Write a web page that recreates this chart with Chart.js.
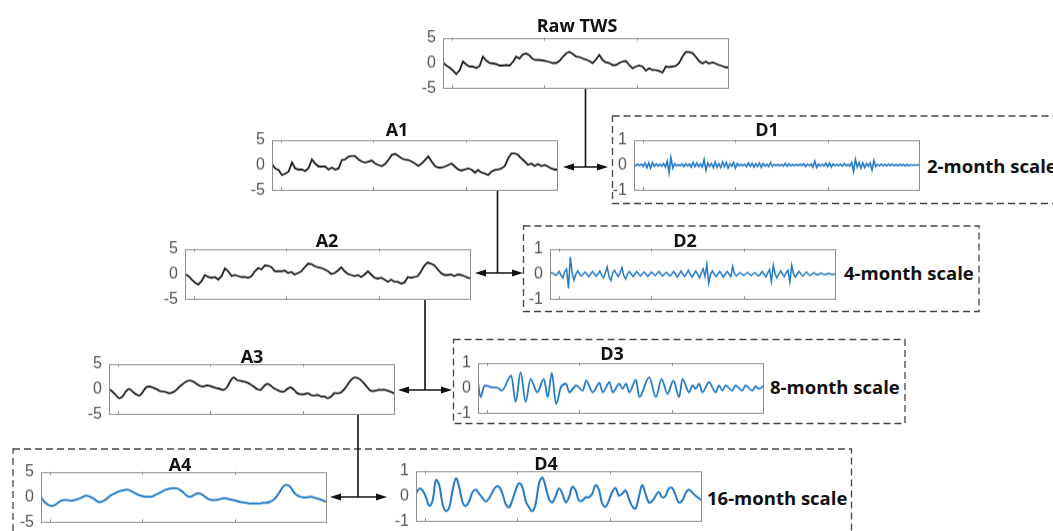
<!DOCTYPE html>
<html>
<head>
<meta charset="utf-8">
<script src="https://cdn.jsdelivr.net/npm/chart.js@4.4.1/dist/chart.umd.min.js"></script>
<style>
  body { margin: 0; width: 1053px; height: 531px; overflow: hidden; background: #fff; position: relative; }
  .panel { position: absolute; }
  .title { position: absolute; font: 700 18px "Open Sans", sans-serif; color: #111; line-height: 1; transform: translate(-50%, -50%); white-space: nowrap; }
  .scale { position: absolute; font: 700 18.5px "Open Sans", sans-serif; color: #111; line-height: 1; transform: translateY(-50%); white-space: nowrap; }
</style>
</head>
<body>
<svg width="1053" height="531" style="position:absolute;left:0;top:0">
  <g fill="none" stroke="#444" stroke-width="1.3" stroke-dasharray="7 4">
    <rect x="612.5" y="116" width="460" height="87.5"/>
    <rect x="523.5" y="226" width="455.5" height="85.5"/>
    <rect x="453.5" y="339.5" width="451.5" height="84"/>
    <rect x="13" y="449" width="838.5" height="110"/>
  </g>
  <g stroke="#111" stroke-width="1.6">
    <line x1="585.5" y1="88.5" x2="585.5" y2="167"/>
    <line x1="566" y1="167" x2="605" y2="167"/>
    <line x1="497.5" y1="190" x2="497.5" y2="273"/>
    <line x1="478" y1="273" x2="520" y2="273"/>
    <line x1="425" y1="300" x2="425" y2="390"/>
    <line x1="401" y1="390" x2="449" y2="390"/>
    <line x1="358" y1="414" x2="358" y2="497"/>
    <line x1="333" y1="497" x2="384" y2="497"/>
  </g>
  <g fill="#111">
    <polygon points="563,167 574,163.5 574,170.5"/>
    <polygon points="608,167 597,163.5 597,170.5"/>
    <polygon points="475,273 486,269.5 486,276.5"/>
    <polygon points="523,273 512,269.5 512,276.5"/>
    <polygon points="398,390 409,386.5 409,393.5"/>
    <polygon points="452,390 441,386.5 441,393.5"/>
    <polygon points="330,497 341,493.5 341,500.5"/>
    <polygon points="387,497 376,493.5 376,500.5"/>
  </g>
</svg>
<script>
// time axis in months, 0..155
const xMax = 155
const xTicks = [5, 55, 105]
const aTicks = [-5, 0, 5]
const dTicks = [-1, 0, 1]

const rawTWS = [0.1,-0.5,-0.9,-1.5,-2.2,-1.4,0.3,-0.3,-0.7,-0.7,-1.0,-0.6,1.25,0.5,0.0,-0.1,-0.2,-0.5,-0.5,-0.4,-0.5,0.2,1.25,0.9,1.7,1.9,1.5,0.8,0.6,0.6,0.5,0.4,0.2,0.0,0.0,0.4,1.2,1.9,2.2,1.8,1.3,1.2,0.9,0.7,0.4,0.0,0.7,1.6,0.6,0.1,0.0,-0.4,-0.4,0.0,0.3,0.4,-0.4,-1.05,-0.7,-0.5,-0.7,-1.5,-1.05,-1.4,-1.4,-1.6,-1.9,-0.7,-0.8,-0.7,-0.6,0.0,1.25,2.2,2.2,2.0,1.25,0.4,-0.1,0.3,-0.1,0.1,-0.1,-0.4,-0.6,-0.85,-0.85]

const a1 = [0.2,-0.7,-1.0,-2.0,-1.7,-1.3,0.5,-0.7,-0.9,-0.9,-1.2,-0.6,1.1,0.3,-0.3,-0.3,-0.3,-0.9,-0.5,-0.9,-0.7,1.0,1.1,1.7,1.8,1.8,1.1,0.7,0.5,0.7,0.9,0.3,0.0,-0.2,0.2,1.0,2.0,2.2,1.8,1.3,1.1,1.0,0.7,0.3,-0.2,0.3,1.0,1.7,0.7,-0.2,-0.5,-0.5,-0.3,0.0,0.3,-0.3,-0.9,-1.1,-0.9,-0.7,-0.9,-1.5,-1.0,-1.5,-1.7,-2.0,-1.3,-1.0,-0.9,-0.7,-0.2,1.3,2.3,2.3,2.0,1.3,0.7,0.0,0.3,-0.2,0.2,-0.2,0.0,-0.3,-0.7,-0.9,-0.9]

const a2 = [0.0,-0.4,-1.1,-1.7,-2.1,-1.4,-0.2,-0.6,-0.75,-0.6,-1.1,-0.4,1.1,0.55,-0.4,-0.2,-0.4,-0.6,-0.6,-0.75,-0.4,0.55,1.2,0.9,1.7,1.65,1.35,0.55,0.55,0.55,0.7,0.2,0.4,-0.1,0.2,0.55,1.35,2.05,2.0,1.55,1.35,1.2,0.9,0.55,0.0,0.2,0.7,1.35,0.55,0.0,-0.2,-0.4,-0.2,-0.6,-0.1,0.55,-0.1,-0.75,-0.9,-0.75,-1.1,-1.55,-1.1,-1.55,-1.55,-1.9,-1.7,-0.6,-0.75,-0.6,-0.4,0.55,1.7,2.3,2.05,1.7,0.9,0.2,-0.2,-0.2,-0.1,-0.4,-0.1,-0.2,-0.4,-0.75,-0.9]

const a3 = [0.03,-0.5,-1.16,-1.82,-1.49,-0.5,0.03,-0.5,-1.03,-1.29,-0.63,0.3,0.5,0.3,0.03,-0.36,-0.5,-0.63,-0.83,-0.63,-0.17,0.5,1.03,1.49,1.69,1.49,1.03,0.63,0.5,0.7,0.63,0.36,0.17,0.03,-0.17,0.3,1.49,2.28,1.82,1.62,1.49,1.29,0.96,0.5,0.03,-0.17,0.5,1.03,0.7,0.17,-0.17,-0.5,-0.5,0.03,0.3,-0.17,-0.83,-1.03,-1.03,-0.83,-1.16,-1.29,-1.16,-1.49,-1.49,-1.82,-1.49,-0.83,-0.83,-0.63,0.03,0.96,1.82,2.28,2.15,1.69,0.96,0.17,-0.36,-0.36,-0.17,-0.17,-0.17,-0.36,-0.63,-0.96]

const a4 = [-0.07,-0.95,-1.49,-1.76,-1.62,-1.15,-0.74,-0.61,-0.61,-0.74,-0.61,-0.41,-0.14,0.2,0.2,-0.07,-0.47,-0.95,-0.95,-0.61,-0.07,0.41,0.74,1.08,1.28,1.42,1.42,1.08,0.74,0.41,0.2,0.07,0.07,0.07,0.41,0.74,1.08,1.42,1.62,1.76,1.76,1.55,1.08,0.41,0.07,0.2,0.61,0.74,0.41,-0.07,-0.47,-0.61,-0.61,-0.47,-0.27,-0.27,-0.47,-0.61,-0.74,-0.95,-1.08,-1.15,-1.28,-1.28,-1.28,-1.28,-1.15,-1.15,-0.95,-0.61,0.07,1.08,2.09,2.43,2.09,1.08,0.41,0.07,-0.07,-0.07,0.07,-0.07,-0.27,-0.47,-0.74,-0.95]

// monthly detail at the 2-month scale
const d1 = [0.02,-0.02,0.03,-0.02,0.04,-0.05,0.08,-0.1,0.09,-0.12,0.1,-0.06,0.05,-0.04,0.03,-0.05,0.06,-0.08,0.15,-0.3,0.3,-0.12,0.05,-0.03,0.02,-0.03,0.04,-0.06,0.05,-0.03,0.04,-0.08,0.1,-0.06,0.08,-0.05,0.04,-0.08,0.22,-0.2,0.08,-0.05,0.06,-0.1,0.12,-0.08,0.05,-0.1,0.12,-0.06,0.1,-0.12,0.05,-0.04,0.1,-0.12,0.06,-0.03,0.02,-0.02,0.03,-0.06,0.08,-0.05,0.07,-0.08,0.05,-0.06,0.08,-0.09,0.06,-0.04,0.03,-0.06,0.1,-0.05,0.02,-0.02,0.02,-0.03,0.02,-0.04,0.06,-0.05,0.04,-0.03,0.02,-0.02,0.02,-0.02,0.03,-0.02,0.05,-0.06,0.03,-0.02,0.04,-0.08,0.15,-0.1,0.03,-0.02,0.02,-0.04,0.08,-0.06,0.07,-0.08,0.05,-0.03,0.02,-0.02,0.03,-0.04,0.06,-0.03,0.02,-0.04,0.1,-0.25,0.22,-0.08,0.1,-0.12,0.08,-0.1,0.06,-0.04,0.08,-0.2,0.18,-0.06,0.03,-0.03,0.04,-0.03,0.02,-0.03,0.03,-0.02,0.03,-0.03,0.02,-0.03,0.03,-0.02,0.02,-0.03,0.02,-0.02,0.01,-0.01,0.01,-0.01,0.01,0.0]

// monthly detail at the 4-month scale
const d2 = [0.0,0.05,0.0,-0.05,0.0,0.1,-0.05,-0.15,0.1,0.2,-0.57,0.68,0.05,-0.25,0.0,0.12,0.0,-0.08,0.0,0.08,0.0,-0.1,0.0,0.1,0.02,-0.08,0.0,0.12,-0.05,-0.15,0.05,0.28,-0.1,-0.25,0.05,0.15,0.0,-0.1,0.05,0.26,-0.05,-0.2,0.0,0.1,0.0,-0.1,0.0,0.1,0.0,-0.08,0.0,0.08,0.0,-0.1,0.0,0.08,0.0,-0.06,0.02,0.1,0.0,-0.08,0.0,0.06,0.0,-0.08,0.0,0.1,0.0,-0.12,0.0,0.12,0.0,-0.1,0.02,0.15,0.0,-0.12,0.0,0.12,0.0,-0.15,0.05,0.2,-0.1,0.38,-0.36,0.0,0.12,0.0,-0.1,0.0,0.1,0.0,-0.12,0.0,0.1,0.0,-0.1,0.3,0.0,-0.08,0.0,0.05,0.0,-0.05,0.0,0.06,0.0,-0.06,0.0,0.05,0.0,-0.08,0.0,0.1,0.0,-0.12,0.05,0.18,-0.3,0.35,0.0,-0.15,0.0,0.12,0.0,-0.1,0.05,0.15,-0.3,0.35,0.0,-0.12,0.0,0.1,0.0,-0.08,0.0,0.08,0.0,-0.06,0.0,0.05,0.0,-0.04,0.0,0.04,0.0,-0.03,0.0,0.03,0.0,-0.02,0.0,0.0]

// 8-month scale, turning points (month, value)
const d3Months = [0,1.4,3.6,7.2,10.8,13,18,20.4,23.1,25.8,28.5,32.1,35.7,37.8,40,42.3,45,47.7,49.5,53.2,56.8,58.6,62.2,65.8,67.6,71.2,73,76.6,78.4,80.2,82,85.6,87.4,92.8,96.4,99.5,102.7,105.9,109,110.8,114.4,116.2,118,119.8,121.6,125.2,128.8,130.6,132.4,134.2,137.8,139.6,143.2,145,148.6,150.5,152.3,155]
const d3Values = [0.23,-0.36,0.1,0.03,0.0,-0.1,0.5,-0.56,0.63,-0.56,0.36,-0.17,0.36,-0.36,0.6,-0.63,0.05,0.17,-0.17,0.1,-0.1,0.3,-0.17,0.2,-0.17,0.23,-0.17,0.17,-0.03,0.17,-0.17,0.33,-0.36,0.43,-0.36,0.36,-0.23,0.3,-0.36,0.36,-0.17,0.1,-0.03,0.17,-0.17,0.23,-0.17,0.1,-0.1,0.1,-0.1,0.1,-0.1,0.1,-0.1,0.06,-0.03,0.1]

const d4 = [0.09,0.29,0.22,-0.05,-0.39,-0.18,0.63,0.43,-0.32,-0.6,-0.45,0.22,0.7,0.35,-0.25,-0.39,-0.2,0.15,0.25,0.09,-0.08,-0.22,-0.08,0.16,0.36,0.36,0.09,-0.32,-0.45,-0.15,0.25,0.5,0.35,-0.2,-0.45,-0.6,-0.3,0.5,0.73,0.35,-0.12,-0.25,0.0,0.3,0.1,-0.25,-0.05,0.36,0.22,-0.18,-0.18,-0.05,-0.05,0.09,0.43,0.25,-0.3,-0.43,-0.18,0.16,0.32,0.02,0.09,0.22,-0.1,-0.4,-0.5,-0.05,0.43,0.1,-0.25,-0.2,0.0,0.16,-0.05,0.0,0.3,0.32,0.05,-0.25,-0.2,0.09,0.25,0.15,0.02,-0.08,-0.18]

const BLACK = '#1b1b1b'
const BLUE = '#2379c6'

function spread(values){
    const step = xMax / (values.length - 1)
    return values.map((v, i) => ({ x: i * step, y: v }))
}
function zip(xs, ys){
    return xs.map((x, i) => ({ x: x, y: ys[i] }))
}

const PAD_L = 40, BOX_W = 286, BOX_H = 50

const panels = [
    { left: 443, top: 38,  pts: spread(rawTWS), ticks: aTicks, color: BLACK, width: 1.8 },
    { left: 272, top: 140, pts: spread(a1), ticks: aTicks, color: BLACK, width: 1.8 },
    { left: 634, top: 140, pts: spread(d1), ticks: dTicks, color: BLUE, width: 1.6 },
    { left: 185, top: 249, pts: spread(a2), ticks: aTicks, color: BLACK, width: 1.8 },
    { left: 550, top: 249, pts: spread(d2), ticks: dTicks, color: BLUE, width: 1.5 },
    { left: 109, top: 364, pts: spread(a3), ticks: aTicks, color: BLACK, width: 1.8, tension: 0.4 },
    { left: 478, top: 363, pts: zip(d3Months, d3Values), ticks: dTicks, color: BLUE, width: 1.8, mono: true },
    { left: 41,  top: 472, pts: spread(a4), ticks: aTicks, color: BLUE, width: 2, tension: 0.4 },
    { left: 416, top: 471, pts: spread(d4), ticks: dTicks, color: BLUE, width: 2, tension: 0.4 }
]

const titles = [
    ['Raw TWS', 577, 25], ['A1', 397, 128.5], ['D1', 767, 128.5], ['A2', 327, 240],
    ['D2', 685, 239.5], ['A3', 252, 355.5], ['D3', 612, 353], ['A4', 180, 463.5], ['D4', 546, 462.5]
]
const scaleLabels = [
    ['2-month scale', 927, 166], ['4-month scale', 844, 273],
    ['8-month scale', 770, 386.5], ['16-month scale', 707, 498]
]

const frame = {
    id: 'frame',
    afterDraw(chart){
        const ctx = chart.ctx
        const a = chart.chartArea
        const x = chart.scales.x
        ctx.save()
        ctx.strokeStyle = '#8c8c8c'
        ctx.lineWidth = 1
        ctx.strokeRect(Math.round(a.left) + 0.5, Math.round(a.top) + 0.5, Math.round(a.width) - 1, Math.round(a.height) - 1)
        ctx.beginPath()
        xTicks.forEach(t => {
            const px = Math.round(x.getPixelForValue(t)) + 0.5
            ctx.moveTo(px, a.bottom)
            ctx.lineTo(px, a.bottom - 3)
            ctx.moveTo(px, a.top)
            ctx.lineTo(px, a.top + 3)
        })
        ctx.stroke()
        ctx.restore()
    }
}

function makeChart(canvas, p){
    return new Chart(canvas.getContext('2d'), {
        type: 'line',
        data: {
            datasets: [{
                data: p.pts,
                borderColor: p.color,
                borderWidth: p.width,
                pointRadius: 0,
                tension: p.tension || 0,
                cubicInterpolationMode: p.mono ? 'monotone' : 'default',
                fill: false
            }]
        },
        options: {
            responsive: false,
            maintainAspectRatio: false,
            animation: false,
            devicePixelRatio: 1,
            events: [],
            layout: { padding: { left: 0, top: 0, right: 3, bottom: 0 } },
            plugins: { legend: { display: false }, tooltip: { enabled: false } },
            scales: {
                x: { type: 'linear', min: 0, max: xMax, display: false },
                y: {
                    min: p.ticks[0],
                    max: p.ticks[2],
                    ticks: {
                        stepSize: p.ticks[1] - p.ticks[0],
                        padding: 7,
                        color: '#555',
                        font: { family: 'Liberation Sans', size: 16 },
                        callback: v => String(v)
                    },
                    grid: { display: false, drawTicks: false },
                    border: { display: false },
                    afterFit: s => { s.width = PAD_L }
                }
            }
        },
        plugins: [frame]
    })
}

function newCanvas(div, w, h){
    div.innerHTML = ''
    const c = document.createElement('canvas')
    c.width = w
    c.height = h
    c.style.width = w + 'px'
    c.style.height = h + 'px'
    div.appendChild(c)
    return c
}

panels.forEach(p => {
    const div = document.createElement('div')
    div.className = 'panel'
    document.body.appendChild(div)

    // first pass measures the room the axis labels take, second pass draws
    let w = PAD_L + BOX_W + 3, h = BOX_H + 20
    let chart = makeChart(newCanvas(div, w, h), p)
    const a = chart.chartArea
    w += BOX_W - (a.right - a.left)
    h += BOX_H - (a.bottom - a.top)
    chart.destroy()
    chart = makeChart(newCanvas(div, w, h), p)

    const b = chart.chartArea
    div.style.left = (p.left - b.left) + 'px'
    div.style.top = (p.top - b.top) + 'px'
})

titles.forEach(t => {
    const el = document.createElement('div')
    el.className = 'title'
    el.textContent = t[0]
    el.style.left = t[1] + 'px'
    el.style.top = t[2] + 'px'
    document.body.appendChild(el)
})
scaleLabels.forEach(t => {
    const el = document.createElement('div')
    el.className = 'scale'
    el.textContent = t[0]
    el.style.left = t[1] + 'px'
    el.style.top = t[2] + 'px'
    document.body.appendChild(el)
})
</script>
</body>
</html>
